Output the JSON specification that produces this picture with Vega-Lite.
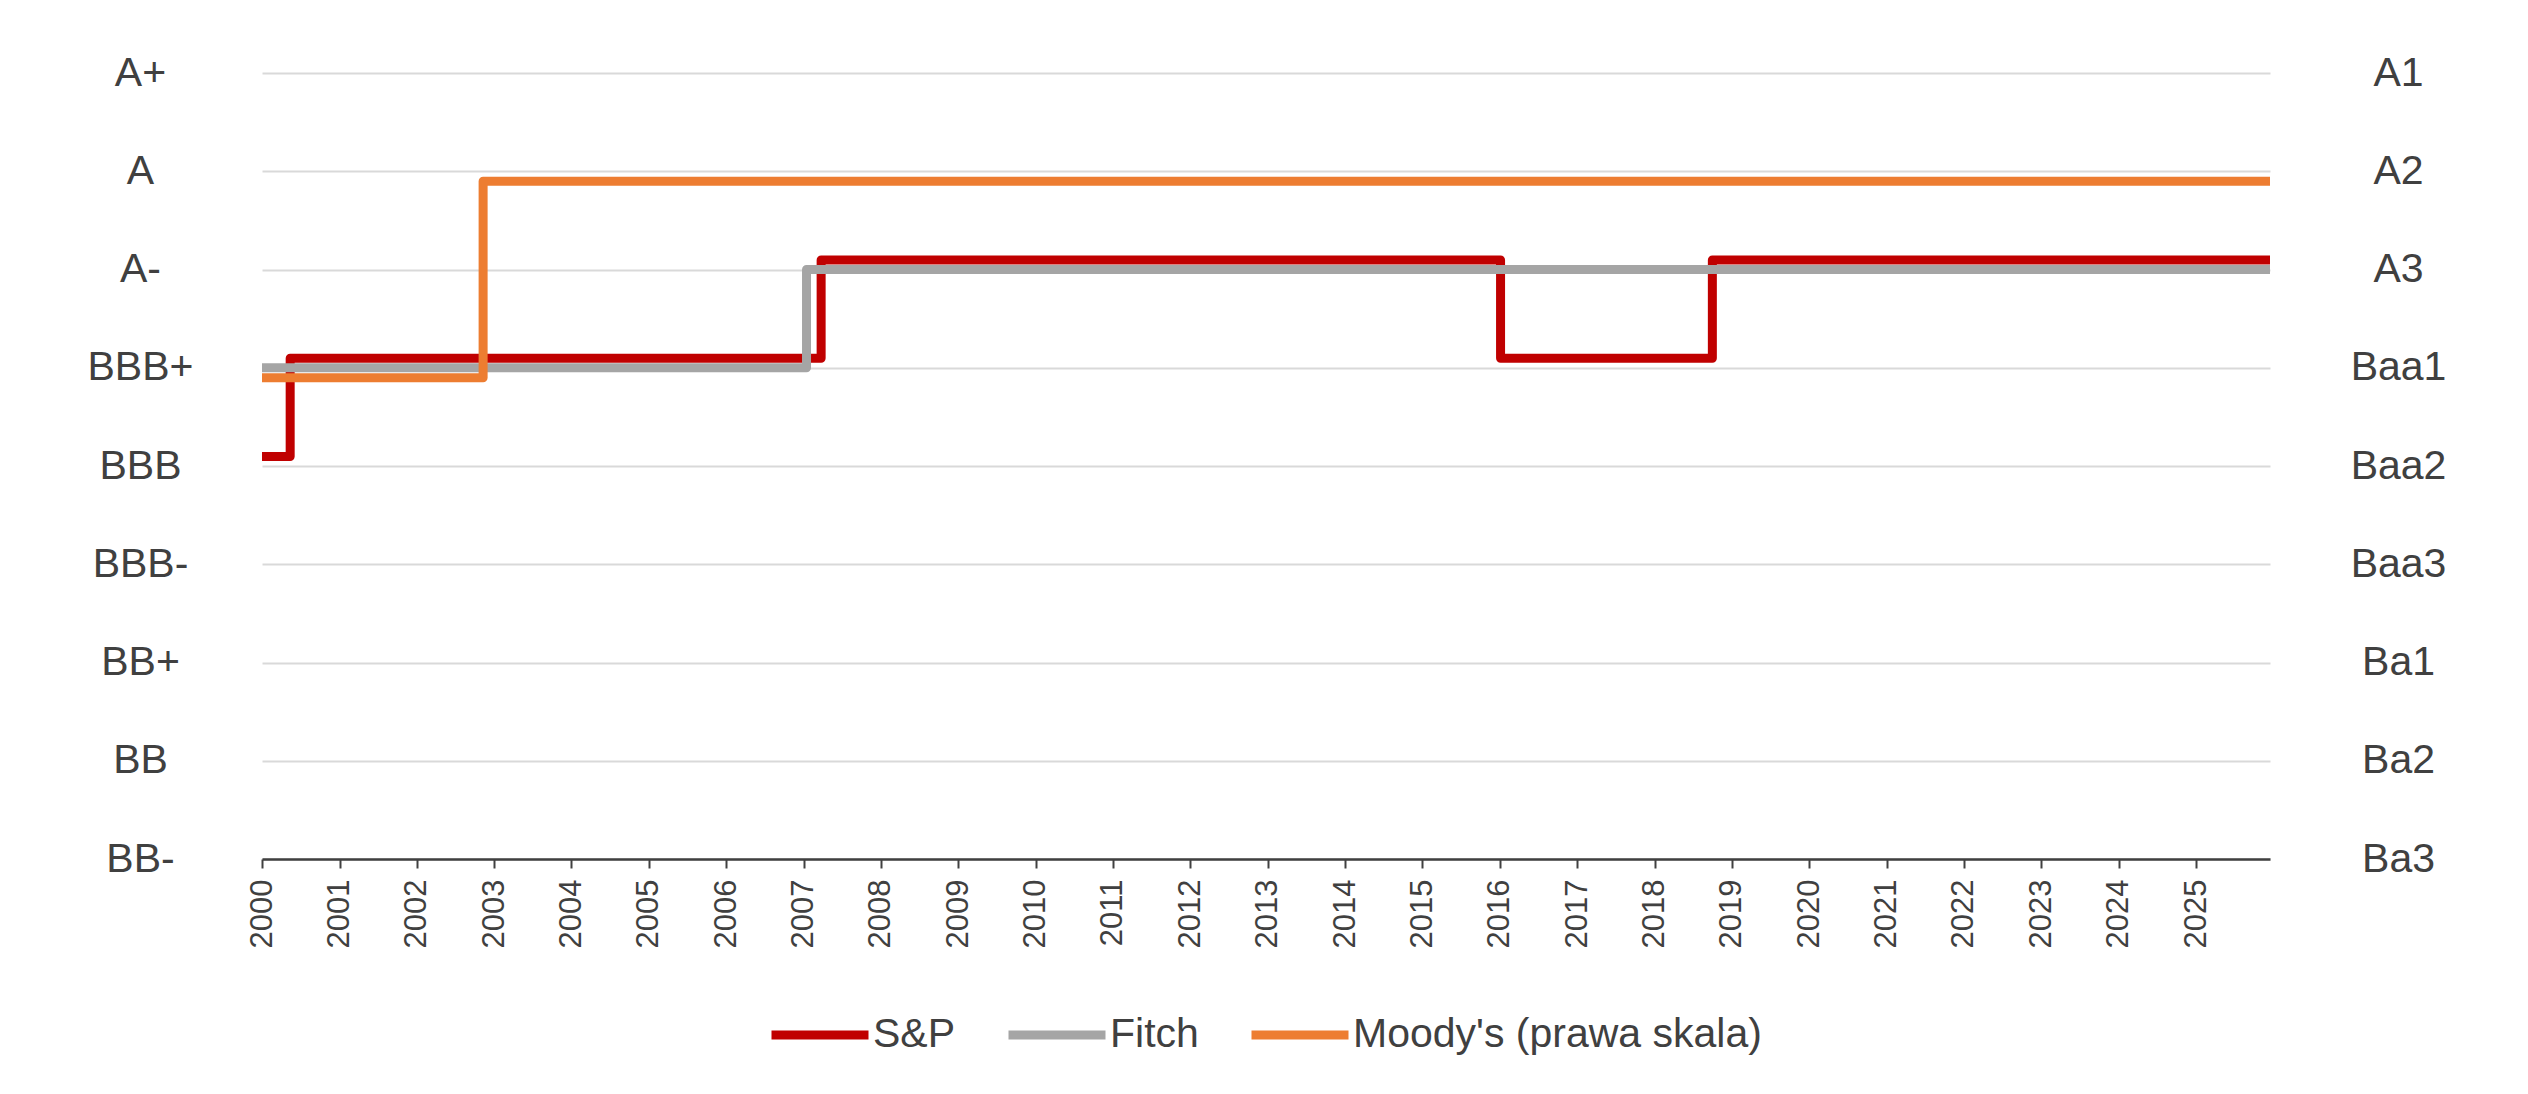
{
  "$schema": "https://vega.github.io/schema/vega-lite/v6.json",
  "width": 2008,
  "height": 786,
  "autosize": {"type": "none"},
  "padding": {"left": 262, "top": 73, "right": 258, "bottom": 235},
  "background": "white",
  "config": {
    "font": "Liberation Sans",
    "view": {"stroke": null},
    "axis": {"labelColor": "#404040", "labelFont": "Liberation Sans"},
    "legend": {"labelColor": "#404040", "labelFont": "Liberation Sans"}
  },
  "data": {
    "values": [
      {"date": "2000-01-01", "agency": "S&P", "rating": 5},
      {"date": "2000-05-13", "agency": "S&P", "rating": 6},
      {"date": "2007-03-25", "agency": "S&P", "rating": 7},
      {"date": "2016-01-05", "agency": "S&P", "rating": 6},
      {"date": "2018-10-01", "agency": "S&P", "rating": 7},
      {"date": "2025-12-16", "agency": "S&P", "rating": 7},
      {"date": "2000-01-01", "agency": "Fitch", "rating": 6},
      {"date": "2007-01-15", "agency": "Fitch", "rating": 7},
      {"date": "2025-12-16", "agency": "Fitch", "rating": 7},
      {"date": "2000-01-01", "agency": "Moody's (prawa skala)", "rating": 6},
      {"date": "2002-11-10", "agency": "Moody's (prawa skala)", "rating": 8},
      {"date": "2025-12-16", "agency": "Moody's (prawa skala)", "rating": 8}
    ]
  },
  "encoding": {
    "x": {
      "field": "date",
      "type": "temporal",
      "scale": {"domain": ["2000-01-01", "2025-12-16"]},
      "axis": {
        "title": null,
        "format": "%Y",
        "tickCount": {"interval": "year", "step": 1},
        "grid": false,
        "labelAngle": -90,
        "labelAlign": "right",
        "labelBaseline": "middle",
        "labelFontSize": 31,
        "labelPadding": 11,
        "labelOverlap": false,
        "labelFlush": false,
        "tickSize": 9,
        "tickWidth": 2,
        "tickColor": "#404040",
        "domainColor": "#404040",
        "domainWidth": 2.5
      }
    },
    "color": {
      "field": "agency",
      "type": "nominal",
      "scale": {
        "domain": ["S&P", "Fitch", "Moody's (prawa skala)"],
        "range": ["#C00000", "#A5A5A5", "#ED7D31"]
      },
      "legend": {
        "title": null,
        "orient": "none",
        "direction": "horizontal",
        "legendX": 505,
        "legendY": 909,
        "symbolType": "stroke",
        "symbolSize": 9409,
        "symbolStrokeWidth": 9,
        "labelFontSize": 41,
        "labelLimit": 0,
        "labelOffset": 0,
        "columnPadding": 34
      }
    }
  },
  "layer": [
    {
      "transform": [{"filter": "datum.agency === 'S&P'"}],
      "mark": {"type": "line", "interpolate": "step-after", "strokeWidth": 9, "strokeJoin": "round", "strokeCap": "butt", "yOffset": -9.5, "clip": true},
      "encoding": {
        "y": {
          "field": "rating",
          "type": "quantitative",
          "scale": {"domain": [1, 9], "nice": false, "zero": false},
          "axis": {
            "title": null,
            "orient": "left",
            "values": [1, 2, 3, 4, 5, 6, 7, 8, 9],
            "labelExpr": "['', 'BB-', 'BB', 'BB+', 'BBB-', 'BBB', 'BBB+', 'A-', 'A', 'A+'][datum.value]",
            "labelFontSize": 41,
            "labelAlign": "center",
            "labelBaseline": "middle",
            "labelPadding": 122,
            "ticks": false,
            "tickSize": 0,
            "domain": false,
            "grid": true,
            "gridColor": "#D9D9D9",
            "gridWidth": 2
          }
        }
      }
    },
    {
      "transform": [{"filter": "datum.agency === 'Fitch'"}],
      "mark": {"type": "line", "interpolate": "step-after", "strokeWidth": 9, "strokeJoin": "round", "strokeCap": "butt", "clip": true},
      "encoding": {
        "y": {"field": "rating", "type": "quantitative", "axis": null}
      }
    },
    {
      "transform": [{"filter": "datum.agency === \"Moody's (prawa skala)\""}],
      "mark": {"type": "line", "interpolate": "step-after", "strokeWidth": 9, "strokeJoin": "round", "strokeCap": "butt", "yOffset": 10, "clip": true},
      "encoding": {
        "y": {
          "field": "rating",
          "type": "quantitative",
          "axis": {
            "title": null,
            "orient": "right",
            "values": [1, 2, 3, 4, 5, 6, 7, 8, 9],
            "labelExpr": "['', 'Ba3', 'Ba2', 'Ba1', 'Baa3', 'Baa2', 'Baa1', 'A3', 'A2', 'A1'][datum.value]",
            "labelFontSize": 41,
            "labelAlign": "center",
            "labelBaseline": "middle",
            "labelPadding": 128,
            "ticks": false,
            "tickSize": 0,
            "domain": false,
            "grid": false
          }
        }
      }
    }
  ],
  "resolve": {"axis": {"y": "independent"}}
}
